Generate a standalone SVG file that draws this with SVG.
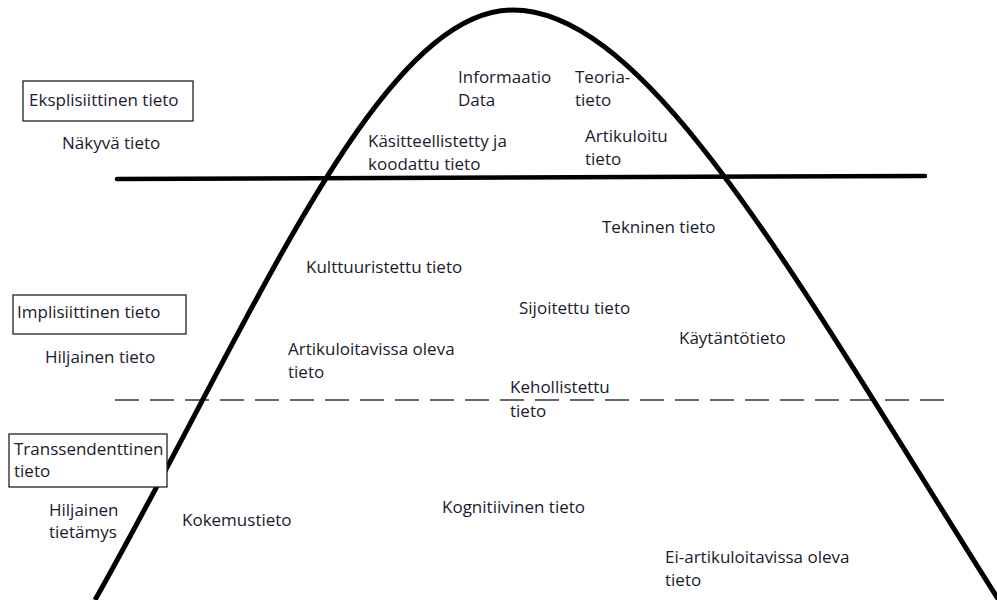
<svg xmlns="http://www.w3.org/2000/svg" width="997" height="600" viewBox="0 0 997 600">
<style>
  text { font-family: "Open Sans", "Liberation Sans", sans-serif; font-size: 17px; fill: #1a1a2e; }
  .box { fill: #ffffff; stroke: #222222; stroke-width: 1.3; }
  .curve { fill: none; stroke: #000000; stroke-width: 5; }
  .solid { fill: none; stroke: #000000; stroke-width: 4.5; stroke-linecap: round; }
  .dash { fill: none; stroke: #666666; stroke-width: 2; stroke-dasharray: 24 11; }
</style>
<rect width="997" height="600" fill="#ffffff"/>
<g id="connectors">
  <path class="solid" d="M117,179 L925,176"/>
  <path class="dash" d="M115,400 L950,400"/>
  <path class="curve" d="M95,600 C252,322 378,10 513,10 C650,10 802,290 1000,602"/>
</g>
<g id="eksplisiittinen">
  <rect class="box" x="23" y="81" width="170" height="40"/>
  <text x="29" y="106">Eksplisiittinen tieto</text>
</g>
<g id="nakyva"><text x="62" y="149">Näkyvä tieto</text></g>
<g id="implisiittinen">
  <rect class="box" x="13" y="295" width="173" height="39"/>
  <text x="17" y="318">Implisiittinen tieto</text>
</g>
<g id="hiljainen-tieto"><text x="45" y="363">Hiljainen tieto</text></g>
<g id="transsendenttinen">
  <rect class="box" x="9" y="434" width="158" height="53"/>
  <text x="14" y="455">Transsendenttinen</text>
  <text x="14" y="477">tieto</text>
</g>
<g id="hiljainen-tietamys">
  <text x="49" y="516">Hiljainen</text>
  <text x="49" y="538">tietämys</text>
</g>
<g id="kokemustieto"><text x="182" y="526">Kokemustieto</text></g>
<g id="informaatio">
  <text x="458" y="83">Informaatio</text>
  <text x="458" y="106">Data</text>
</g>
<g id="teoria">
  <text x="575" y="83">Teoria-</text>
  <text x="575" y="106">tieto</text>
</g>
<g id="kasitteellistetty">
  <text x="368" y="147">Käsitteellistetty ja</text>
  <text x="368" y="170">koodattu tieto</text>
</g>
<g id="artikuloitu">
  <text x="585" y="142">Artikuloitu</text>
  <text x="585" y="165">tieto</text>
</g>
<g id="tekninen"><text x="602" y="233">Tekninen tieto</text></g>
<g id="kulttuuristettu"><text x="306" y="273">Kulttuuristettu tieto</text></g>
<g id="sijoitettu"><text x="519" y="314">Sijoitettu tieto</text></g>
<g id="kaytanto"><text x="679" y="344">Käytäntötieto</text></g>
<g id="artikuloitavissa">
  <text x="288" y="355">Artikuloitavissa oleva</text>
  <text x="288" y="378">tieto</text>
</g>
<g id="kehollistettu">
  <text x="510" y="393">Kehollistettu</text>
  <text x="510" y="417">tieto</text>
</g>
<g id="kognitiivinen"><text x="442" y="513">Kognitiivinen tieto</text></g>
<g id="ei-artikuloitavissa">
  <text x="665" y="563">Ei-artikuloitavissa oleva</text>
  <text x="665" y="586">tieto</text>
</g>
</svg>
